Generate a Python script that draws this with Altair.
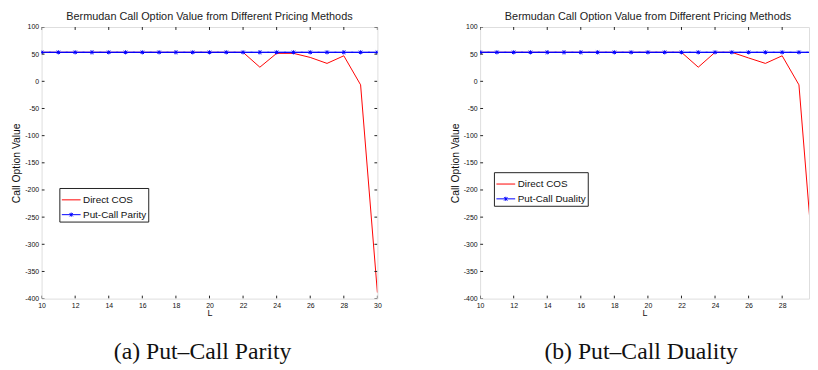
import altair as alt
import pandas as pd

# ---------------- data ----------------
L_values = [10, 11, 12, 13, 14, 15, 16, 17, 18, 19, 20, 21, 22, 23, 24, 25, 26, 27, 28, 29, 30]
cos_parity = [53.4, 53.4, 53.4, 53.4, 53.4, 53.4, 53.4, 53.4, 53.4, 53.4, 53.4, 53.4, 53.4,
              26.0, 51.5, 51.5, 44.0, 33.0, 47.0, -6.5, -389.0]
put_call_parity = [53.4] * 21
cos_duality = [53.4, 53.4, 53.4, 53.4, 53.4, 53.4, 53.4, 53.4, 53.4, 53.4, 53.4, 53.4, 53.4,
               26.0, 53.4, 53.4, 43.0, 33.0, 47.0, -6.5, -389.0]
put_call_duality = [53.4] * 21

series_cos = "Direct COS"
series_parity = "Put-Call Parity"
series_duality = "Put-Call Duality"
chart_title = "Bermudan Call Option Value from Different Pricing Methods"
captions = ["(a) Put\u2013Call Parity", "(b) Put\u2013Call Duality"]
x_tick_values = [10, 12, 14, 16, 18, 20, 22, 24, 26, 28, 30]
y_tick_values = [-400, -350, -300, -250, -200, -150, -100, -50, 0, 50, 100]

RED = "#ff0000"
BLUE = "#0000ff"
STAR = "M-1,0L1,0M-0.18,-0.18L0.18,0.18M-0.18,0.18L0.18,-0.18M0,-0.22L0,0.22"
LINE = "M-1,0L1,0"
FONT = "Liberation Sans"
H = 275


def panel(cos_vals, other_vals, other_name, caption, width, xmax, legend_xy, title_dx, right_ticks):
    df = pd.DataFrame({
        "L": L_values * 2,
        "value": cos_vals + other_vals,
        "series": [series_cos] * len(L_values) + [other_name] * len(L_values),
    })
    dom = [series_cos, other_name]
    xscale = alt.Scale(domain=[10, xmax], nice=False, zero=False)
    yscale = alt.Scale(domain=[-400, 100], nice=False, zero=False)
    xaxis = alt.Axis(values=x_tick_values, title="L", ticks=False, domain=False, grid=False,
                     labelPadding=3, titlePadding=0, labelFlush=False, labelOverlap=False,
                     labelExpr="'' + datum.value", titleFontWeight="normal", titleFontSize=9,
                     labelFontSize=7, labelFont=FONT, titleFont=FONT, labelColor="#111",
                     titleColor="#111")
    yaxis = alt.Axis(values=y_tick_values, title="Call Option Value", ticks=False, domain=False,
                     grid=False, labelPadding=3, titlePadding=3, labelFlush=False,
                     labelOverlap=False, labelExpr="'' + datum.value", titleFontWeight="normal",
                     titleFontSize=10.5, labelFontSize=7, labelFont=FONT, titleFont=FONT,
                     labelColor="#111", titleColor="#111")
    X = alt.X("L:Q", scale=xscale, axis=xaxis)
    Y = alt.Y("value:Q", scale=yscale, axis=yaxis)
    legend = alt.Legend(title=None, orient="none", legendX=legend_xy[0], legendY=legend_xy[1],
                        strokeColor="#222", fillColor="white", padding=2, rowPadding=-3,
                        labelFont=FONT, labelFontSize=10, labelColor="#111", labelOffset=2,
                        symbolSize=361, symbolStrokeWidth=1, symbolFillColor="transparent",
                        labelLimit=300)
    color = alt.Color("series:N", scale=alt.Scale(domain=dom, range=[RED, BLUE]), legend=legend)
    shape = alt.Shape("series:N", scale=alt.Scale(domain=dom, range=[LINE, STAR]), legend=legend)

    base = alt.Chart(df)
    red = base.transform_filter(alt.datum.series == series_cos).mark_line(
        strokeWidth=1, clip=True).encode(x=X, y=Y, color=color)
    blue = base.transform_filter(alt.datum.series == other_name).mark_line(
        strokeWidth=1, clip=True).encode(x=X, y=Y, color=color)
    pts = base.transform_filter(alt.datum.series == other_name).mark_point(
        filled=False, size=361, strokeWidth=1, clip=True, opacity=1).encode(
        x=X, y=Y, color=color, shape=shape)

    xt = pd.DataFrame({"L": x_tick_values})
    yt = pd.DataFrame({"value": y_tick_values})
    tick_style = dict(color="#222", strokeWidth=1, clip=True)
    t_bottom = alt.Chart(xt).mark_rule(**tick_style).encode(x=X, y=alt.value(H), y2=alt.value(H - 3))
    t_top = alt.Chart(xt).mark_rule(**tick_style).encode(x=X, y=alt.value(0), y2=alt.value(3))
    t_left = alt.Chart(yt).mark_rule(**tick_style).encode(y=Y, x=alt.value(0), x2=alt.value(3))
    layers = [t_bottom, t_top, t_left]
    if right_ticks:
        layers.append(alt.Chart(yt).mark_rule(**tick_style).encode(
            y=Y, x=alt.value(width), x2=alt.value(width - 3)))

    cap = alt.Chart(pd.DataFrame({"t": [caption]})).mark_text(
        font="Liberation Serif", fontSize=24, baseline="alphabetic", align="center", color="#111"
    ).encode(text="t:N", x=alt.value(163), y=alt.value(336))

    return alt.layer(red, blue, pts, *layers, cap).properties(
        width=width, height=H,
        title=alt.TitleParams(chart_title, font=FONT, fontSize=11, fontWeight="normal",
                              color="#222", anchor="middle", offset=1, dx=title_dx),
    )


left = panel(cos_parity, put_call_parity, series_parity, captions[0], 340, 30, (18, 163), 0, True)
right = panel(cos_duality, put_call_duality, series_duality, captions[1], 333, 29.6, (14, 147), 3.5, False)

chart = alt.hconcat(left, right, spacing=104, bounds="flush").resolve_scale(
    color="independent", shape="independent", x="independent", y="independent"
).resolve_legend(color="independent", shape="independent").properties(
    padding={"left": 3, "top": 0, "right": 0, "bottom": 0}
).configure_view(
    stroke="#222", strokeWidth=1
).configure(background="white")

chart.save("out.html", embed_options={"renderer": "svg", "actions": False})
